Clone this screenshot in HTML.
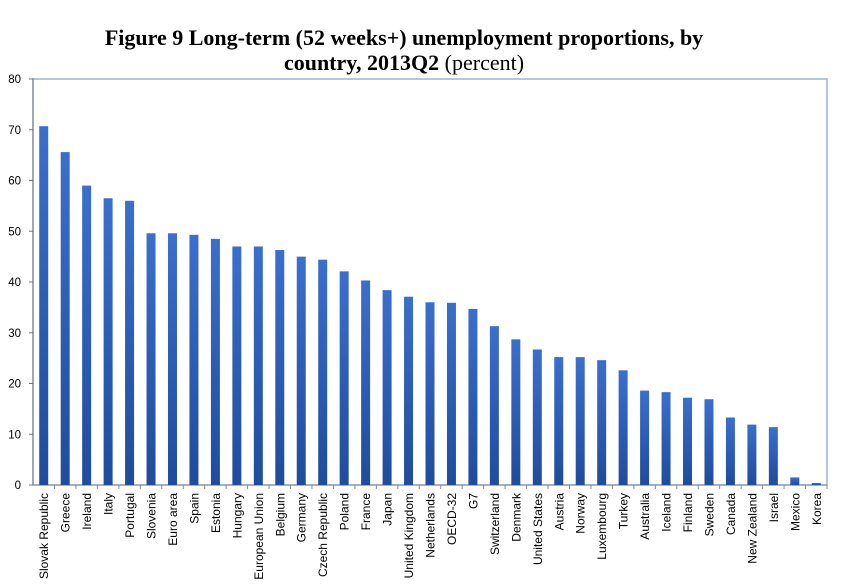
<!DOCTYPE html>
<html><head><meta charset="utf-8"><style>
body{margin:0;background:#fff;width:842px;height:586px;overflow:hidden}
svg{display:block}
</style></head><body>
<svg id="c" width="842" height="586" xmlns="http://www.w3.org/2000/svg">
<defs><linearGradient id="g" x1="0" y1="0" x2="0" y2="1"><stop offset="0" stop-color="#3a6fcc"/><stop offset="1" stop-color="#1f4c9c"/></linearGradient></defs>
<text x="404" y="45" text-anchor="middle" font-family="Liberation Serif, serif" font-weight="bold" font-size="22">Figure 9  Long-term (52 weeks+) unemployment proportions, by</text>
<text x="404" y="70" text-anchor="middle" font-family="Liberation Serif, serif" font-size="22"><tspan font-weight="bold">country, 2013Q2</tspan> (percent)</text>
<g id="plot"></g>
</svg>
<script>
const categories=["Slovak Republic","Greece","Ireland","Italy","Portugal","Slovenia","Euro area","Spain","Estonia","Hungary","European Union","Belgium","Germany","Czech Republic","Poland","France","Japan","United Kingdom","Netherlands","OECD-32","G7","Switzerland","Denmark","United States","Austria","Norway","Luxembourg","Turkey","Australia","Iceland","Finland","Sweden","Canada","New Zealand","Israel","Mexico","Korea"];
const values=[70.7,65.6,59,56.5,56,49.6,49.6,49.3,48.5,47,47,46.3,45,44.4,42.1,40.3,38.4,37.1,36,35.9,34.7,31.3,28.7,26.7,25.2,25.2,24.6,22.6,18.6,18.3,17.2,16.9,13.3,11.9,11.4,1.5,0.4];
const yTicks=[0,10,20,30,40,50,60,70,80];
const NS="http://www.w3.org/2000/svg";
const L=33,R=827,T=79,B=485,yMax=80;
const slot=(R-L)/categories.length;
const y=v=>B-(v/yMax)*(B-T);
const xc=i=>L+slot*(i+0.5);
const g=document.getElementById('plot');
function mk(tag,a){const e=document.createElementNS(NS,tag);for(const k in a)e.setAttribute(k,a[k]);g.appendChild(e);return e;}
const frame=mk('rect',{x:L,y:T,width:R-L,height:B-T,fill:'none',stroke:'#9bb3d6','stroke-width':1.5});


const ya=mk('line',{x1:L,y1:T-1,x2:L,y2:B,stroke:'#777','stroke-width':1});


const xa=mk('line',{x1:L-4,y1:B,x2:R,y2:B,stroke:'#888','stroke-width':1});


yTicks.forEach(t=>{
  const tk=mk('line',{x1:L-4,y1:y(t),x2:L,y2:y(t),stroke:'#777'});
  
  
  const tx=mk('text',{x:L-12,y:y(t)+4,'text-anchor':'end','font-family':'Liberation Sans, sans-serif','font-size':11.5});
  tx.textContent=t;
  
  
});
categories.forEach((c,i)=>{
  const tk=mk('line',{x1:L+slot*(i+1),y1:B,x2:L+slot*(i+1),y2:B+4,stroke:'#888'});
  
  
  const b=mk('rect',{x:xc(i)-4.5,y:y(values[i]),width:9,height:B-y(values[i]),fill:'url(#g)'});
  
  
  const tx=mk('text',{x:0,y:0,'text-anchor':'end','font-family':'Liberation Sans, sans-serif','font-size':12,transform:`translate(${xc(i)+4.5},${B+8}) rotate(-90)`});
  tx.textContent=c;
  
  
});
</script>
</body></html>
